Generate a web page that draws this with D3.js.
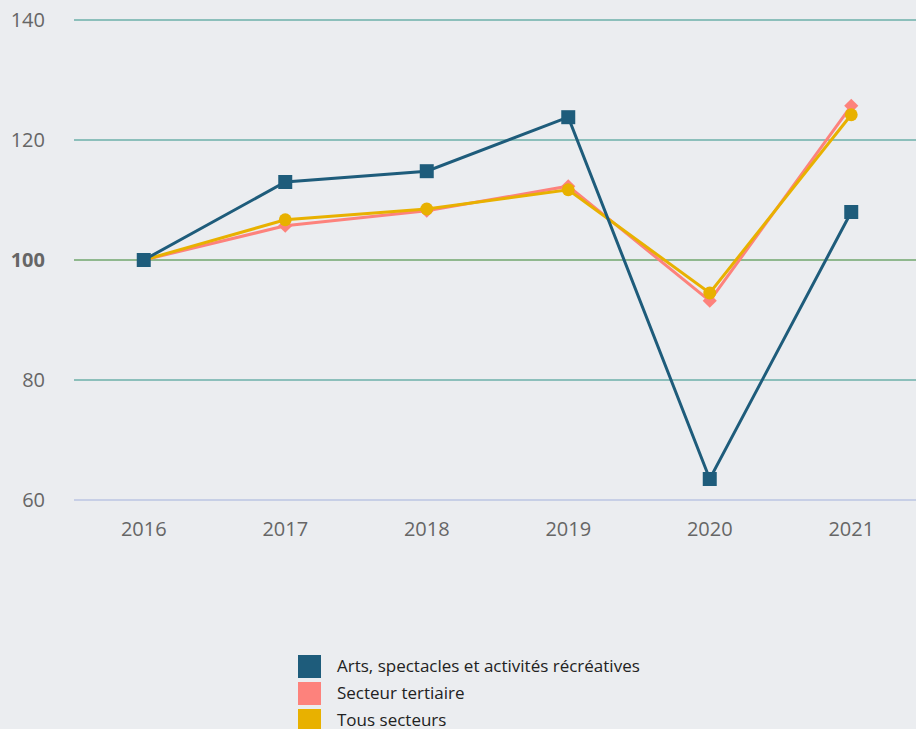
<!DOCTYPE html>
<html>
<head>
<meta charset="utf-8">
<script src="https://cdn.jsdelivr.net/npm/d3@7"></script>
<style>
  body { margin: 0; background: #ebedf0; }
  svg { display: block; font-family: "Open Sans", "Noto Sans", sans-serif; }
</style>
</head>
<body>
<script>
(function() {
    'use strict';

    var years = ["2016", "2017", "2018", "2019", "2020", "2021"];
    var arts = [100, 113, 114.8, 123.8, 63.5, 108];
    var tertiaire = [100, 105.7, 108.2, 112.3, 93.2, 125.7];
    var tous = [100, 106.7, 108.5, 111.7, 94.5, 124.2];
    var yTicks = [60, 80, 100, 120, 140];
    var seriesNames = ["Arts, spectacles et activités récréatives", "Secteur tertiaire", "Tous secteurs"];

    var w = 916;
    var h = 729;
    var left = 74, right = 916, top = 20, bottom = 500;

    var svg = d3.select("body")
                .append("svg")
                .attr("width", w)
                .attr("height", h);

    svg.append("rect").attr("width", w).attr("height", h).attr("fill", "#ebedf0");

    var x = d3.scalePoint().domain(years).range([73, 922]).padding(0.5);
    var y = d3.scaleLinear().domain([60, 140]).range([bottom, top]);

    // grid lines
    svg.selectAll("line.grid")
       .data(yTicks)
       .enter()
       .append("line")
       .attr("class", "grid")
       .attr("x1", left)
       .attr("x2", right)
       .attr("y1", function(d) { return y(d); })
       .attr("y2", function(d) { return y(d); })
       .attr("stroke", function(d) {
           if (d === 60) { return "#c7cfe6"; }
           if (d === 100) { return "#8fb88e"; }
           return "#8cbfbb";
       })
       .attr("stroke-width", 2);

    // y labels
    svg.selectAll("text.ylab")
       .data(yTicks)
       .enter()
       .append("text")
       .attr("class", "ylab")
       .attr("x", 45)
       .attr("y", function(d) { return y(d); })
       .attr("dy", "0.35em")
       .attr("text-anchor", "end")
       .attr("font-size", 20)
       .attr("font-weight", function(d) { return d === 100 ? "bold" : "normal"; })
       .attr("fill", "#666")
       .text(function(d) { return d; });

    // x labels
    svg.selectAll("text.xlab")
       .data(years)
       .enter()
       .append("text")
       .attr("class", "xlab")
       .attr("x", function(d) { return x(d); })
       .attr("y", 536)
       .attr("text-anchor", "middle")
       .attr("font-size", 20)
       .attr("fill", "#666")
       .text(function(d) { return d; });

    var line = d3.line()
                 .x(function(d, i) { return x(years[i]); })
                 .y(function(d) { return y(d); });

    // diamond = square turned 45deg
    var series = [
        { values: tertiaire, color: "#fd827c", shape: d3.symbolSquare, size: 100, rot: 45 },
        { values: tous, color: "#e8b100", shape: d3.symbolCircle, size: 130, rot: 0 },
        { values: arts, color: "#1e5c7b", shape: d3.symbolSquare, size: 196, rot: 0 }
    ];

    series.forEach(function(s) {
        svg.append("path")
           .datum(s.values)
           .attr("d", line)
           .attr("fill", "none")
           .attr("stroke", s.color)
           .attr("stroke-width", 3);
        svg.selectAll(null)
           .data(s.values)
           .enter()
           .append("path")
           .attr("transform", function(d, i) {
               return "translate(" + x(years[i]) + "," + y(d) + ") rotate(" + s.rot + ")";
           })
           .attr("d", d3.symbol().type(s.shape).size(s.size))
           .attr("fill", s.color);
    });

    // legend
    var legendColors = ["#1e5c7b", "#fd827c", "#e8b100"];
    var legend = svg.selectAll("g.legend")
                    .data(seriesNames)
                    .enter()
                    .append("g")
                    .attr("class", "legend")
                    .attr("transform", function(d, i) {
                        return "translate(298," + (655 + i * 27) + ")";
                    });
    legend.append("rect")
          .attr("width", 23)
          .attr("height", 23)
          .attr("fill", function(d, i) { return legendColors[i]; });
    legend.append("text")
          .attr("x", 39)
          .attr("y", 11)
          .attr("dy", "0.35em")
          .attr("font-size", 17)
          .attr("fill", "#222")
          .text(function(d) { return d; });
}());
</script>
</body>
</html>
